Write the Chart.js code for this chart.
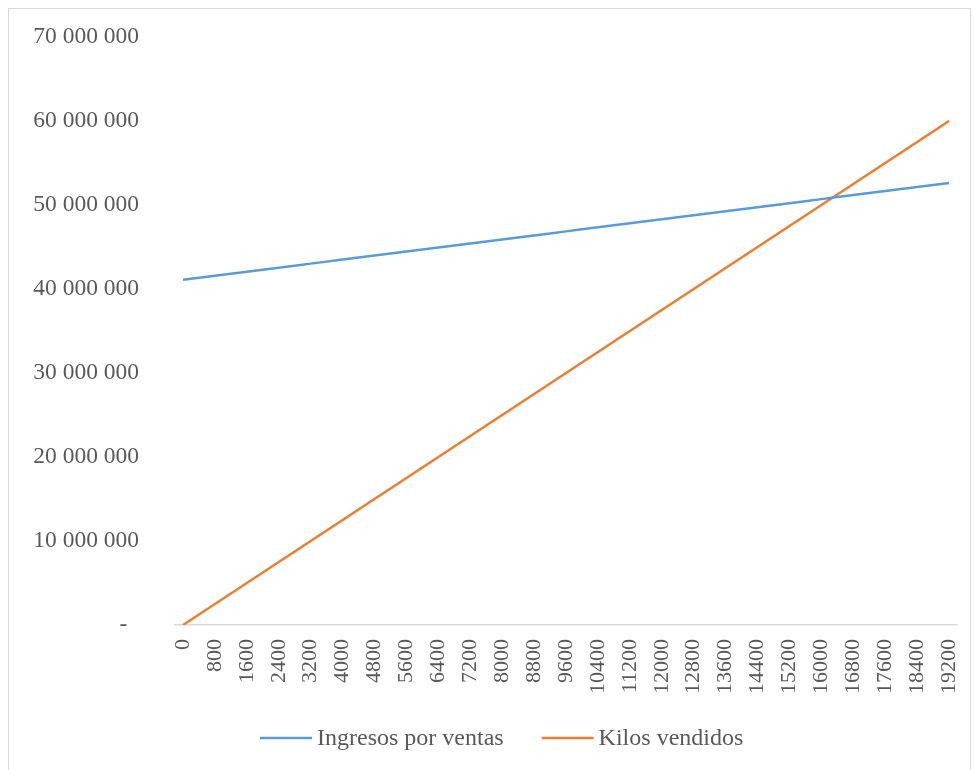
<!DOCTYPE html>
<html>
<head>
<meta charset="utf-8">
<script src="https://cdn.jsdelivr.net/npm/chart.js@4"></script>
<style>
html,body{margin:0;padding:0;background:#fff;}
#wrap{position:absolute;left:0;top:0;width:974px;height:770px;}
#frame{position:absolute;left:8px;top:8px;width:963px;height:775px;border:1px solid #d9d9d9;box-sizing:border-box;}
canvas{position:absolute;left:0;top:0;}
</style>
</head>
<body>
<div id="wrap">
<div id="frame"></div>
<canvas id="c" width="974" height="770"></canvas>
</div>
<script>
const categories = [0,400,800,1200,1600,2000,2400,2800,3200,3600,4000,4400,4800,5200,5600,6000,6400,6800,7200,7600,8000,8400,8800,9200,9600,10000,10400,10800,11200,11600,12000,12400,12800,13200,13600,14000,14400,14800,15200,15600,16000,16400,16800,17200,17600,18000,18400,18800,19200];
const ingresosPorVentas = [41100000,41340000,41580000,41820000,42060000,42300000,42540000,42780000,43020000,43260000,43500000,43740000,43980000,44220000,44460000,44700000,44940000,45180000,45420000,45660000,45900000,46140000,46380000,46620000,46860000,47100000,47340000,47580000,47820000,48060000,48300000,48540000,48780000,49020000,49260000,49500000,49740000,49980000,50220000,50460000,50700000,50940000,51180000,51420000,51660000,51900000,52140000,52380000,52620000];
const kilosVendidos = [0,1250000,2500000,3750000,5000000,6250000,7500000,8750000,10000000,11250000,12500000,13750000,15000000,16250000,17500000,18750000,20000000,21250000,22500000,23750000,25000000,26250000,27500000,28750000,30000000,31250000,32500000,33750000,35000000,36250000,37500000,38750000,40000000,41250000,42500000,43750000,45000000,46250000,47500000,48750000,50000000,51250000,52500000,53750000,55000000,56250000,57500000,58750000,60000000];
const seriesNames = ["Ingresos por ventas","Kilos vendidos"];
const yTicks = [0,10000000,20000000,30000000,40000000,50000000,60000000,70000000];

const FONT = "'Liberation Serif','Times New Roman',serif";
const TXT = "#595959";

function fmt(v){
  if (v === 0) return "-  ";
  return String(Math.round(v)).replace(/\B(?=(\d{3})+(?!\d))/g, " ");
}

const bottomLegend = {
  id: 'bottomLegend',
  afterDraw(chart){
    const ctx = chart.ctx;
    const y = 738;
    let x = 260;
    ctx.save();
    ctx.font = "24px " + FONT;
    ctx.textBaseline = 'middle';
    ctx.textAlign = 'left';
    chart.data.datasets.forEach(ds => {
      ctx.strokeStyle = ds.borderColor;
      ctx.lineWidth = 2.5;
      ctx.beginPath();
      ctx.moveTo(x, y);
      ctx.lineTo(x + 52, y);
      ctx.stroke();
      x += 57;
      ctx.fillStyle = TXT;
      ctx.fillText(ds.label, x, y + 1);
      x += ctx.measureText(ds.label).width + 38;
    });
    ctx.restore();
  }
};

new Chart(document.getElementById('c'), {
  type: 'line',
  data: {
    labels: categories.map(String),
    datasets: [
      {label: seriesNames[0], data: ingresosPorVentas, borderColor: '#5B9BD5', backgroundColor: '#5B9BD5', borderWidth: 2.5, pointRadius: 0, tension: 0},
      {label: seriesNames[1], data: kilosVendidos, borderColor: '#ED7D31', backgroundColor: '#ED7D31', borderWidth: 2.5, pointRadius: 0, tension: 0}
    ]
  },
  plugins: [bottomLegend],
  options: {
    responsive: false,
    animation: false,
    devicePixelRatio: 1,
    layout: {padding: {top: 37, right: 17, left: 10, bottom: 55}},
    plugins: {
      tooltip: {enabled: false},
      legend: {display: false}
    },
    scales: {
      x: {
        type: 'category',
        offset: true,
        grid: {display: false, drawTicks: false},
        border: {display: true, color: '#d9d9d9', width: 1.5},
        ticks: {
          autoSkip: false,
          maxRotation: 90,
          minRotation: 90,
          padding: 14,
          color: TXT,
          font: {family: FONT, size: 22},
          callback: function(val, idx){ return idx % 2 === 0 ? this.getLabelForValue(val) : ''; }
        },
        afterFit: function(s){ s.height = 90; s.paddingRight = 0; s.paddingLeft = 0; }
      },
      y: {
        min: 0,
        max: 70000000,
        afterBuildTicks: function(s){ s.ticks = yTicks.map(v => ({value: v})); },
        grid: {display: false, drawTicks: false},
        border: {display: false},
        ticks: {
          padding: 36,
          color: TXT,
          font: {family: FONT, size: 23.5},
          callback: function(v){ return fmt(v); }
        },
        afterFit: function(s){ s.width = 165; s.paddingTop = 0; s.paddingBottom = 0; }
      }
    }
  }
});
</script>
</body>
</html>
